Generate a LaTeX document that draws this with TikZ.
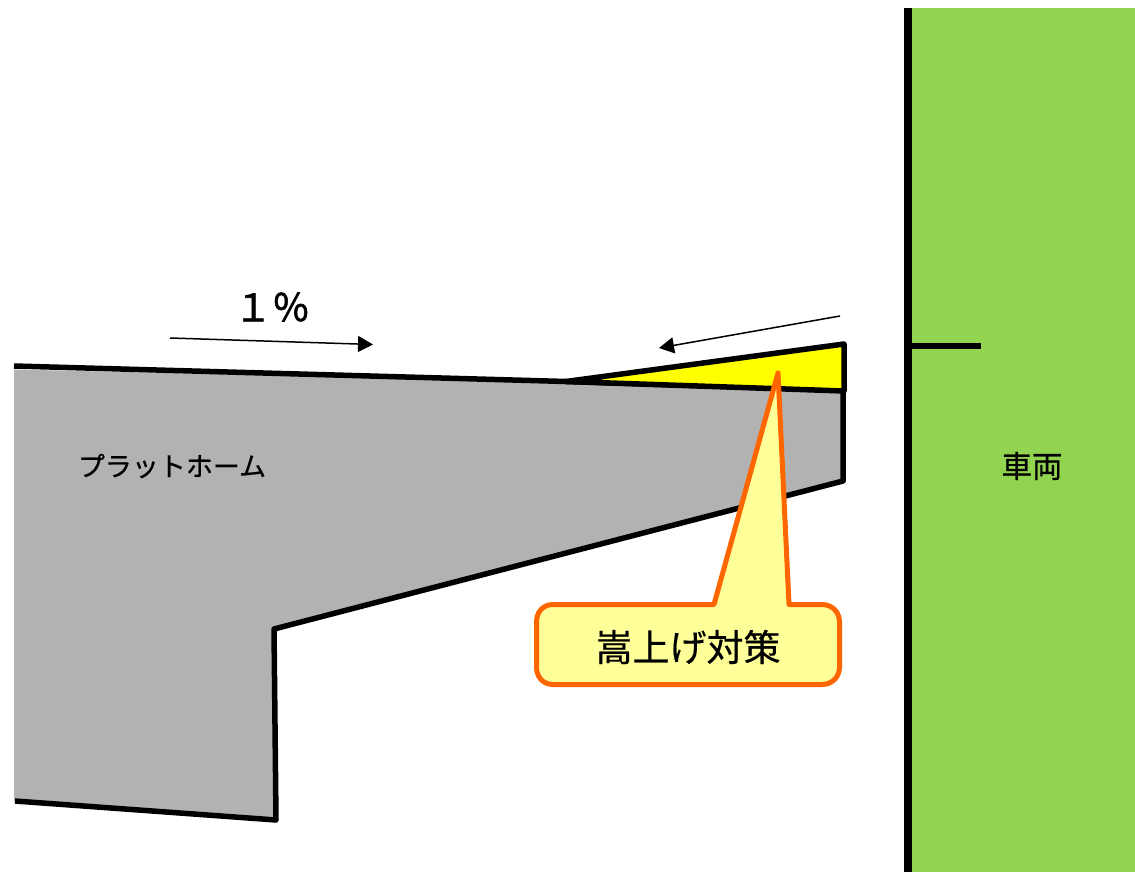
\documentclass[tikz,border=0pt]{standalone}
\usepackage{fontspec}
\setmainfont{Noto Sans CJK JP}
\newfontfamily\heavyfont[FakeBold=1.5]{Noto Sans CJK JP}
\newfontfamily\midfont[FakeBold=0.5]{Noto Sans CJK JP}
\usetikzlibrary{arrows.meta}
\definecolor{carg}{HTML}{92D350}
\definecolor{platg}{HTML}{B2B2B2}
\definecolor{wedgey}{HTML}{FFFF00}
\definecolor{calloutfill}{HTML}{FFFF99}
\definecolor{calloutline}{HTML}{FF6600}
\tikzset{
  outline/.style={draw=black,line width=5.5pt,line join=round},
  slopearrow/.style={draw=black,line width=1.5pt,-{Triangle[length=15pt,width=16pt]}},
  label/.style={inner sep=0pt,anchor=center,text=black},
}
\begin{document}
\begin{tikzpicture}[x=1pt,y=-1pt]
\useasboundingbox (0,0) rectangle (1135,872);
% vehicle
\fill[carg] (908,8) rectangle (1135,872);
\draw[line width=8pt] (908,8) -- (908,872);
\draw[line width=6pt] (910,345.5) -- (981,345.5);
\node[label,font=\midfont\fontsize{30.5}{31}\selectfont] (car) at (1032,466) {車両};
% platform
\fill[platg] (14,369.5) -- (566,382) -- (843,390) -- (843,481) -- (274,629) -- (276,820) -- (14,801) -- cycle;
\draw[outline,line join=miter] (14,366) -- (566,381.5);
\draw[outline] (566,381.5) -- (843,390) -- (843,481) -- (274,629) -- (276,820) -- (15,801);
% wedge
\draw[outline,fill=wedgey] (566,381.5) -- (844,344) -- (844,391) -- cycle;
% labels
\node[label,font=\midfont\fontsize{27}{28}\selectfont] (plat) at (172,466) {プラットホーム};
\node[label,font=\heavyfont\fontsize{38}{39}\selectfont] (pct) at (272,307) {１％};
% arrows
\coordinate (r0) at (170,338);
\coordinate (r1) at (373,344.5);
\coordinate (l0) at (840,316);
\coordinate (l1) at (659,348);
\draw[slopearrow] (r0) -- (r1);
\draw[slopearrow] (l0) -- (l1);
% callout
\path[draw=calloutline,fill=calloutfill,line width=5pt,line join=round]
  (553,604.5) -- (714,604.5) -- (778,373) -- (789,604.5) -- (822,604.5)
  .. controls (832,604.5) and (839.5,612) .. (839.5,622)
  -- (839.5,667)
  .. controls (839.5,677) and (832,684.5) .. (822,684.5)
  -- (553,684.5)
  .. controls (543,684.5) and (536.5,677) .. (536.5,667)
  -- (536.5,622)
  .. controls (536.5,612) and (543,604.5) .. (553,604.5) -- cycle;
\node[label,font=\midfont\fontsize{37}{38}\selectfont] (cap) at (688,647) {嵩上げ対策};
\end{tikzpicture}
\end{document}
